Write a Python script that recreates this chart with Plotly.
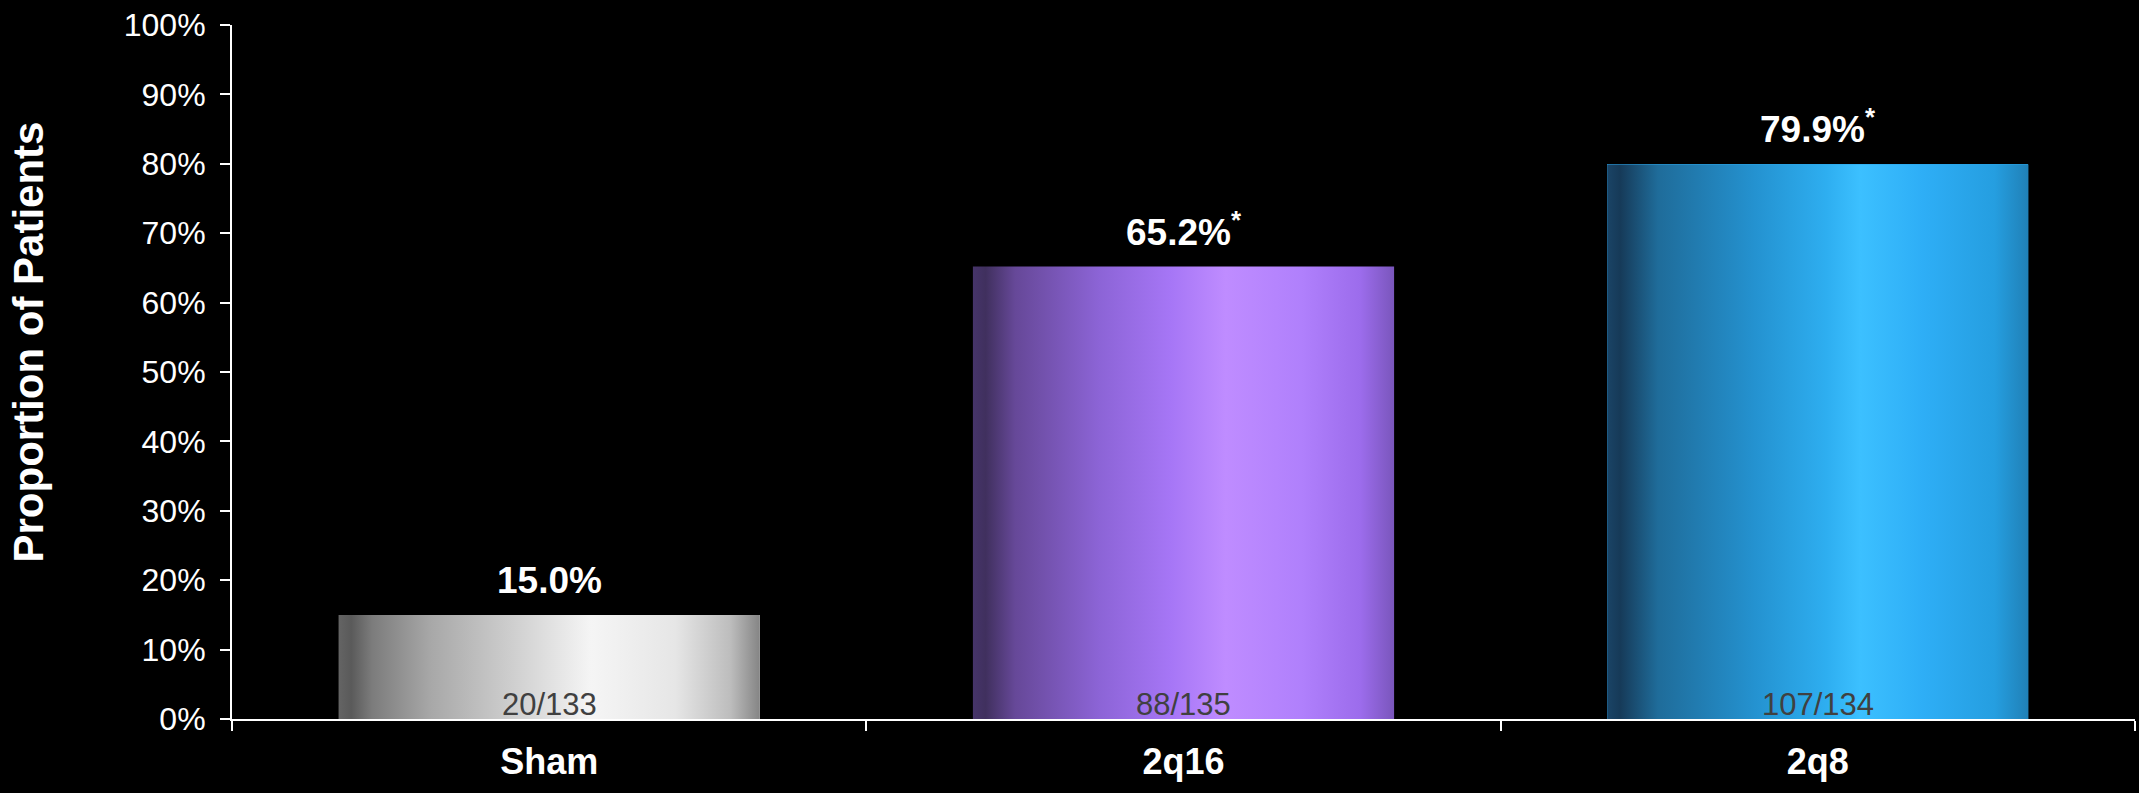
import plotly.graph_objects as go

categories = ["Sham", "2q16", "2q8"]
values = [0.150, 0.652, 0.799]
value_labels = ["15.0%", "65.2%<sup>*</sup>", "79.9%<sup>*</sup>"]
count_labels = ["20/133", "88/135", "107/134"]
y_ticks = [0, 0.1, 0.2, 0.3, 0.4, 0.5, 0.6, 0.7, 0.8, 0.9, 1.0]
y_tick_labels = ["0%", "10%", "20%", "30%", "40%", "50%", "60%", "70%", "80%", "90%", "100%"]

gradients = [
    [[0, "#646464"], [0.03, "#5a5a5a"], [0.08, "#7c7c7c"], [0.22, "#a8a8a8"], [0.42, "#d0d0d0"],
     [0.6, "#f5f5f5"], [0.8, "#e6e6e6"], [0.93, "#bdbdbd"], [1, "#858585"]],
    [[0, "#46346a"], [0.03, "#40305e"], [0.1, "#664898"], [0.3, "#8c64d6"], [0.47, "#a676f6"],
     [0.6, "#bf8cff"], [0.78, "#b080fc"], [0.92, "#9c6cec"], [1, "#7a56bc"]],
    [[0, "#1a4466"], [0.03, "#163a58"], [0.12, "#1f6c9a"], [0.35, "#2492d0"], [0.52, "#2eaef0"],
     [0.6, "#3cc0ff"], [0.75, "#2eaef6"], [0.92, "#259ee0"], [1, "#2080b6"]],
]
base_colors = ["#c8c8c8", "#a070f0", "#28a4e8"]

bar_width = 0.664
xs = list(range(len(categories)))

fig = go.Figure()
fig.add_trace(go.Bar(x=xs, y=values, width=bar_width, marker=dict(color=base_colors, line=dict(width=0)),
                     showlegend=False, hoverinfo="skip"))

for i, v in enumerate(values):
    x0, x1 = i - bar_width / 2, i + bar_width / 2
    fig.add_trace(go.Scatter(
        x=[x0, x1, x1, x0, x0], y=[0, 0, v, v, 0],
        mode="lines", line=dict(width=0), fill="toself",
        fillgradient=dict(type="horizontal", colorscale=gradients[i]),
        showlegend=False, hoverinfo="skip"))
    fig.add_annotation(x=i, y=v, text="<b>" + value_labels[i] + "</b>", showarrow=False,
                       yanchor="bottom", yshift=12,
                       font=dict(family="Liberation Sans, Arial", size=37, color="white"))
    fig.add_annotation(x=i, y=0, text=count_labels[i], showarrow=False,
                       yanchor="bottom", yshift=-5,
                       font=dict(family="Liberation Sans, Arial", size=31, color="#404040"))

fig.add_annotation(xref="paper", yref="paper", x=-0.107, y=0.543, text="<b>Proportion of Patients</b>",
                   textangle=-90, showarrow=False, xanchor="center", yanchor="middle",
                   font=dict(family="Liberation Sans, Arial", size=42, color="white"))

fig.update_layout(
    width=2139, height=793,
    paper_bgcolor="black", plot_bgcolor="black",
    margin=dict(l=232, r=4, t=25, b=74, autoexpand=False),
    bargap=0,
    xaxis=dict(range=[-0.5, 2.5], tickvals=xs, ticktext=["<b>%s</b>" % c for c in categories],
               ticks="outside", ticklen=10, tickcolor="rgba(0,0,0,0)",
               tickfont=dict(family="Liberation Sans, Arial", size=36, color="white"),
               showline=True, linecolor="white", linewidth=2, showgrid=False, zeroline=False,
               minor=dict(tickvals=[-0.5, 0.5, 1.5, 2.5], ticks="outside", ticklen=10,
                          tickcolor="white", tickwidth=2)),
    yaxis=dict(range=[0, 1], tickvals=y_ticks, ticktext=y_tick_labels,
               ticks="outside", ticklen=10, tickcolor="white", tickwidth=2, ticklabelstandoff=8,
               tickfont=dict(family="Liberation Sans, Arial", size=32, color="white"),
               showline=True, linecolor="white", linewidth=2, showgrid=False, zeroline=False),
)

fig.write_html("out.html", config={"displayModeBar": False},
               post_script="document.body.style.margin='0';document.body.style.background='black';")
